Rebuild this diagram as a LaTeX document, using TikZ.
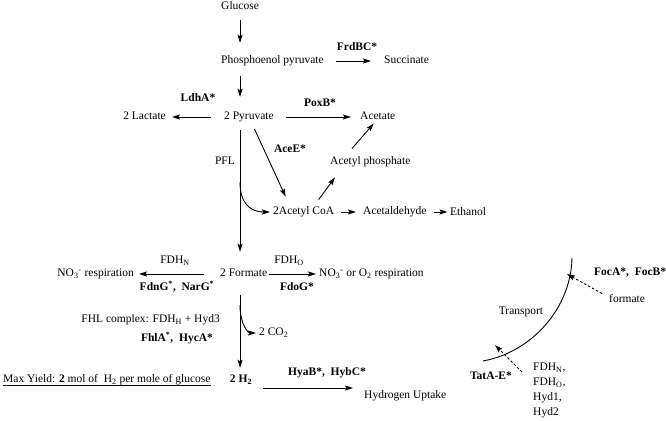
\documentclass[tikz,border=0pt]{standalone}
\usepackage{fontspec}
\setmainfont{Liberation Serif}
\usetikzlibrary{arrows.meta,calc}
\begin{document}
\begin{tikzpicture}[x=1pt,y=-1pt,
  every node/.style={font=\fontsize{11.5}{13.8}\selectfont, inner sep=1pt, text height=8pt, text depth=2.5pt},
  lbl/.style={font=\fontsize{11.5}{13.8}\selectfont\bfseries},
  arr/.style={line width=0.9pt, -{Stealth[length=8pt,width=5pt,inset=1.5pt]}},
  darr/.style={arr, dash pattern=on 2.5pt off 2pt},
  ]
\useasboundingbox (0,0) rectangle (666,420);
% nodes
\node[anchor=west] (glc) at (220,7) {Glucose};
\node[anchor=west] (pep) at (220,61) {Phosphoenol pyruvate};
\node[anchor=west] (succ) at (383,61) {Succinate};
\node[lbl] (frd) at (357,48) {FrdBC*};
\node[anchor=west] (pyr) at (223,117) {2 Pyruvate};
\node[anchor=east] (lac) at (167,117) {2 Lactate};
\node[lbl] (ldh) at (198,99) {LdhA*};
\node[anchor=west] (acet) at (359,117) {Acetate};
\node[lbl] (poxb) at (320,104) {PoxB*};
\node[lbl] (acee) at (290,150) {AceE*};
\node (pfl) at (225,162) {PFL};
\node[anchor=west] (acp) at (329,162) {Acetyl phosphate};
\node[anchor=west] (acoa) at (272,212) {2Acetyl CoA};
\node[anchor=west] (ald) at (362,212) {Acetaldehyde};
\node[anchor=west] (eth) at (449,213) {Ethanol};
\node[anchor=west] (form) at (219,274) {2 Formate};
\node[anchor=east] (no3l) at (135,274) {NO\textsubscript{3}\textsuperscript{-} respiration};
\node (fdhn) at (175,261) {FDH\textsubscript{N}};
\node[anchor=west] (no3r) at (318,274) {NO\textsubscript{3}\textsuperscript{-} or O\textsubscript{2} respiration};
\node (fdho) at (289,261) {FDH\textsubscript{O}};
\node[lbl] (fdng) at (177,288) {FdnG\textsuperscript{*},\ \ NarG\textsuperscript{*}};
\node[lbl] (fdog) at (297,288) {FdoG*};
\node[anchor=east] (fhl) at (221,320) {FHL complex: FDH\textsubscript{H} + Hyd3};
\node[lbl] (fhla) at (177,339) {FhlA\textsuperscript{*},\ \ HycA*};
\node[anchor=west] (co2) at (258,333) {2 CO\textsubscript{2}};
\node[lbl] (h2) at (241,380) {2 H\textsubscript{2}};
\node[anchor=west] (maxy) at (2,380) {Max Yield: \textbf{2} mol of\ \ H\textsubscript{2} per mole of glucose};
\node[lbl] (hyab) at (327,373) {HyaB*,\ \ HybC*};
\node[anchor=west] (hup) at (363,396) {Hydrogen Uptake};
\node[lbl,anchor=west] (foc) at (593,273) {FocA*,\ \ FocB*};
\node[anchor=west] (fmt) at (608,300) {formate};
\node (trans) at (521,312) {Transport};
\node[lbl,anchor=east] (tat) at (513,377) {TatA-E*};
\node[anchor=west] (l1) at (532,368) {FDH\textsubscript{N},};
\node[anchor=west] (l2) at (532,383) {FDH\textsubscript{O},};
\node[anchor=west] (l3) at (532,398) {Hyd1,};
\node[anchor=west] (l4) at (532,413) {Hyd2};
% main column
\draw[arr, shorten <=6.75pt, shorten >=11.75pt] (glc.south) -- (glc.south |- pep.north);
\draw[arr, shorten <=8.75pt, shorten >=13.75pt] (glc.south |- pep.south) -- (glc.south |- pyr.north);
\draw[arr, shorten <=6.75pt, shorten >=15.75pt] (glc.south |- pyr.south) -- (glc.south |- form.north);
\draw[arr, shorten <=14.75pt, shorten >=5.75pt] (glc.south |- form.south) -- (glc.south |- h2.north);
% side arrows
\draw[arr, shorten <=11.5pt, shorten >=12pt] (pep) -- (succ);
\draw[arr, shorten <=12pt, shorten >=5pt] (pyr) -- (lac);
\draw[arr, shorten <=11.5pt, shorten >=8pt] (pyr) -- (acet);
\draw[arr, shorten <=6pt, shorten >=9.75pt] (pyr) -- ($(acoa.north)+(-14,0)$);
\draw[arr] ($(acoa.north)+(15,-6)$) -- ($(acp.south west)+(6,9)$);
\draw[arr] ($(acp.north west)+(23,-7)$) -- ($(acet.south)+(-4,0)$);
\draw[arr, shorten <=6pt, shorten >=6pt] (acoa) -- (ald);
\draw[arr, shorten <=6pt, shorten >=1.5pt] (ald.east) -- (ald.east -| eth.west);
\draw[arr, shorten <=15pt, shorten >=4pt] (form) -- (no3l);
\draw[arr, shorten <=0.5pt, shorten >=2pt] (form) -- (no3r);
% curved arrows
\coordinate (pflc) at (240,182);
\draw[arr, shorten >=2pt] (pflc) .. controls (240,203) and (250,212) .. (acoa.west);
\coordinate (co2c) at (240,305);
\draw[arr, shorten >=2pt] (co2c) .. controls (240,324) and (248,333) .. (co2.west);
% hydrogen uptake
\coordinate (hl) at (263,388);
\draw[arr, shorten >=10pt] (hl) -- (hl -| hup.west);
\draw[line width=0.6pt] ($(maxy.base west)+(1,2.5)$) -- ($(maxy.base east)+(-1,2.5)$);
% transport
\coordinate (ta) at (483,361);
\coordinate (tb) at (572,258);
\draw[line width=0.9pt] (ta) .. controls (532,352) and (571,308) .. (tb);
\coordinate (ftip) at (567,274);
\draw[darr] ($(fmt.north west)+(-6,0)$) -- (ftip);
\coordinate (ttip) at (495,345);
\draw[darr] ($(tat.east)+(9,-5)$) -- (ttip);
\end{tikzpicture}
\end{document}
